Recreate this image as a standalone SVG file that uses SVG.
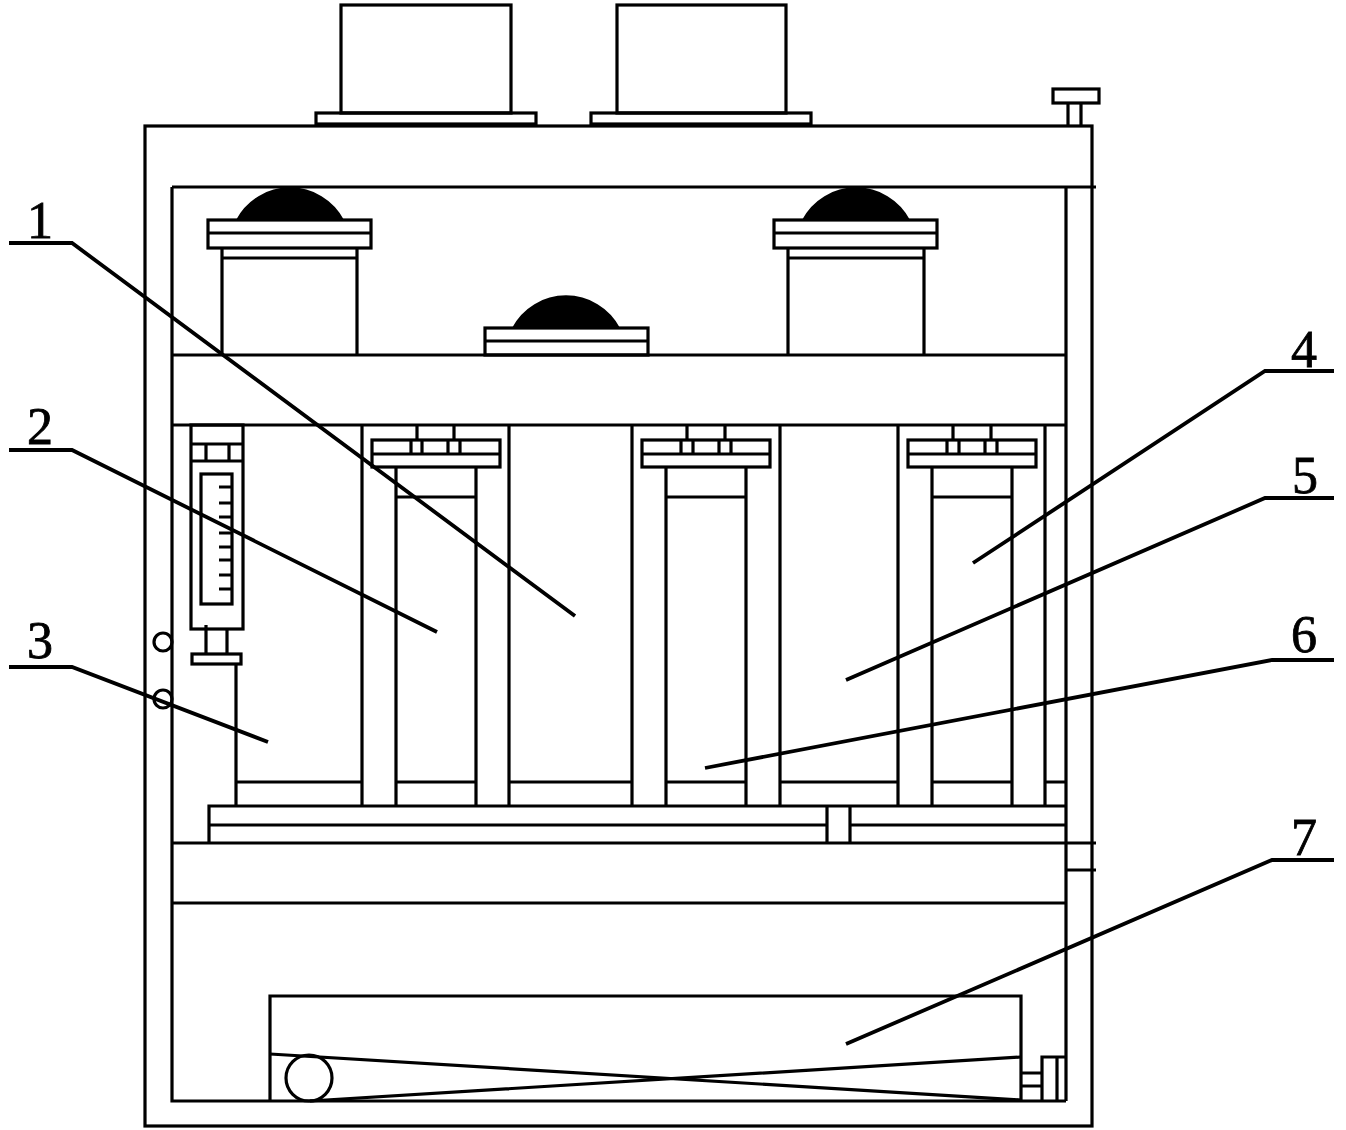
<svg xmlns="http://www.w3.org/2000/svg" width="1346" height="1130" viewBox="0 0 1346 1130">
<style>
.l{fill:none;stroke:#000;stroke-width:3.2}
.c{fill:none;stroke:#000;stroke-width:3.8}
.d{fill:#000;stroke:none}
text{font-family:"Liberation Serif",serif;font-size:52px;fill:#000;stroke:#000;stroke-width:.8;text-anchor:middle}
</style>
<defs>
<g id="pad">
<path class="d" d="M28 0A61 61 0 0 1 136 0Z"/>
</g>
</defs>
<rect width="1346" height="1130" fill="#fff"/>
<g id="frame" class="l">
<rect x="145" y="126" width="947" height="1000"/>
<path d="M172 187V1101H1066M172 187H1096M172 355H1066M172 425H1066M172 843H209M172 903H1066M1066 187V1101M209 843H1096M1066 870H1096"/>
</g>
<g id="top-box-left" class="l"><rect x="341" y="5" width="170" height="108"/><rect x="316" y="113" width="220" height="11"/></g>
<g id="top-box-right" class="l"><rect x="617" y="5" width="169" height="108"/><rect x="591" y="113" width="220" height="11"/></g>
<g id="knob" class="l"><rect x="1053" y="89" width="46" height="14"/><path d="M1068 103V127M1081 103V127"/></g>
<g id="lamp-left">
<use href="#pad" x="208" y="220"/>
<g class="l"><rect x="208" y="220" width="163" height="28"/><path d="M208 233H371M222 248V355M357 248V355M222 258H357"/></g>
</g>
<g id="lamp-right">
<use href="#pad" x="774" y="220"/>
<g class="l"><rect x="774" y="220" width="163" height="28"/><path d="M774 233H937M788 248V355M924 248V355M788 258H924"/></g>
</g>
<g id="lamp-middle">
<use href="#pad" x="484" y="328"/>
<g class="l"><rect x="485" y="328" width="163" height="27"/><path d="M485 341H648"/></g>
</g>
<g id="gauge" class="l">
<rect x="191" y="425" width="52" height="204"/>
<path d="M191 444H243M191 461H243M206 444V461M229 444V461"/>
<rect x="201" y="474" width="31" height="130"/>
<path d="M219 487H232M219 503H232M219 517H232M219 533H232M219 547H232M219 560H232M219 575H232M219 589H232"/>
<path d="M206 625V654M227 629V654"/>
<rect x="192" y="654" width="49" height="10"/>
<path d="M236 664V806M236 782H362"/>
<circle cx="163" cy="642" r="9"/>
<circle cx="163" cy="699" r="9"/>
</g>
<g id="column-1" class="l">
<path d="M362 425V806M396 467V806M476 467V806M509 425V806M396 497H476"/>
<rect x="372" y="440" width="128" height="27"/>
<path d="M372 454H500M417 425V440M454 425V440M411 440V454M422 440V454M448 440V454M460 440V454"/>
</g>
<g id="column-2" class="l">
<path d="M632 425V806M666 467V806M746 467V806M780 425V806M666 497H746"/>
<rect x="642" y="440" width="128" height="27"/>
<path d="M642 454H770M687 425V440M725 425V440M681 440V454M693 440V454M719 440V454M731 440V454"/>
</g>
<g id="column-3" class="l">
<path d="M898 425V806M932 467V806M1012 467V806M1045 425V806M932 497H1012"/>
<rect x="908" y="440" width="128" height="27"/>
<path d="M908 454H1036M953 425V440M991 425V440M947 440V454M959 440V454M985 440V454M997 440V454"/>
</g>
<g id="base" class="l">
<path d="M209 843V806H1066M209 825H827M850 825H1066M827 806V843M850 806V843"/>
<path d="M396 782H476M509 782H632M666 782H746M780 782H898M932 782H1012M1045 782H1066"/>
</g>
<g id="conveyor" class="l">
<path d="M270 1101V996H1021V1101"/>
<path d="M270 1054L1021 1100M310 1101L1021 1057"/>
<circle cx="309" cy="1078" r="23"/>
<path d="M1021 1073H1042M1021 1086H1042M1042 1101V1057H1066M1057 1057V1101"/>
</g>
<g id="connectors" class="c">
<path d="M9 243H72L575 616"/>
<path d="M9 450H72L437 632"/>
<path d="M9 667H72L268 742"/>
<path d="M1334 371H1265L973 563"/>
<path d="M1334 498H1265L846 680"/>
<path d="M1334 660H1272L705 768"/>
<path d="M1334 860H1272L846 1044"/>
</g>
<g id="labels">
<text x="40" y="238">1</text>
<text x="40" y="444">2</text>
<text x="40" y="658">3</text>
<text x="1304" y="367">4</text>
<text x="1305" y="493">5</text>
<text x="1304" y="652">6</text>
<text x="1304" y="855">7</text>
</g>
</svg>
